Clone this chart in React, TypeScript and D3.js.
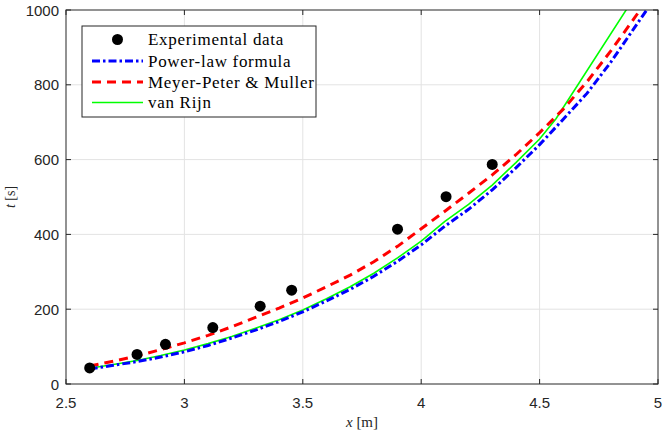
import React from 'react';
import * as d3 from 'd3';

// ---- data ----
const expX = [2.6, 2.8, 2.92, 3.12, 3.32, 3.453, 3.9, 4.105, 4.3];
const expT = [43, 79, 106, 151, 208, 251, 414, 501, 587];

const modelX = [2.6, 2.7, 2.8, 2.9, 3.0, 3.1, 3.2, 3.3, 3.4, 3.5, 3.6, 3.7, 3.8, 3.9, 4.0, 4.1, 4.2, 4.3, 4.4, 4.5, 4.6, 4.7, 4.8, 4.9, 5.0];
const powerT = [40, 50, 60, 72, 86, 103, 123, 144, 167, 193, 222, 253, 288, 328, 372, 422, 467, 519, 578, 640, 708, 777, 860, 952, 1044];
const mpmT = [48, 61, 75, 92, 110, 130, 153, 178, 203, 230, 260, 291, 327, 368, 415, 462, 510, 559, 613, 672, 735, 808, 890, 978, 1070];

const vrX = [2.6, 2.7, 2.8, 2.9, 3.0, 3.1, 3.2, 3.3, 3.4, 3.5, 3.6, 3.7, 3.8, 3.9, 4.0, 4.1, 4.2, 4.3, 4.4, 4.5, 4.57, 4.9];
const vrT = [42, 52, 63, 76, 91, 108, 127, 149, 172, 198, 228, 260, 296, 337, 382, 435, 480, 532, 592, 655, 710, 1034];

const xTicks = [2.5, 3, 3.5, 4, 4.5, 5];
const yTicks = [0, 200, 400, 600, 800, 1000];
const legendLabels = ['Experimental data', 'Power-law formula', 'Meyer-Peter & Muller', 'van Rijn'];

const W = 664;
const H = 433;
const M = { left: 66, top: 10, right: 6, bottom: 49 };

export default function App() {
  const x = d3.scaleLinear().domain([2.5, 5]).range([M.left, W - M.right]);
  const y = d3.scaleLinear().domain([0, 1000]).range([H - M.bottom, M.top]);
  const line = d3
    .line<[number, number]>()
    .x((d) => x(d[0]))
    .y((d) => y(d[1]));
  const powerPath = line(modelX.map((v, i) => [v, powerT[i]]) as [number, number][]) || '';
  const mpmPath = line(modelX.map((v, i) => [v, mpmT[i]]) as [number, number][]) || '';
  const vrPath = line(vrX.map((v, i) => [v, vrT[i]]) as [number, number][]) || '';

  const x0 = M.left;
  const x1 = W - M.right;
  const y0 = H - M.bottom;
  const y1 = M.top;
  const axisColor = '#262626';
  const tickFont = "'Liberation Sans', Arial, Helvetica, sans-serif";
  const serif = "'Liberation Serif', 'Times New Roman', serif";
  const tl = 5;

  const lx = 82;
  const ly = 26;
  const lw = 234;
  const lh = 91;
  const rowY = [39.5, 61, 82, 102.5];
  const lineX0 = 92;
  const lineX1 = 143;
  const textX = 148;

  return (
    <div style={{ position: 'fixed', left: 0, top: 0 }}>
      <svg width={W} height={H} viewBox={`0 0 ${W} ${H}`} style={{ display: 'block', background: '#fff' }}>
        <defs>
          <clipPath id="plotClip">
            <rect x={x0} y={y1} width={x1 - x0} height={y0 - y1} />
          </clipPath>
        </defs>
        <rect x={0} y={0} width={W} height={H} fill="#fff" />
        {/* grid */}
        {xTicks.slice(1, -1).map((t) => (
          <line key={'gx' + t} x1={x(t)} x2={x(t)} y1={y0} y2={y1} stroke="#e3e3e3" strokeWidth={1} />
        ))}
        {yTicks.slice(1, -1).map((t) => (
          <line key={'gy' + t} x1={x0} x2={x1} y1={y(t)} y2={y(t)} stroke="#e3e3e3" strokeWidth={1} />
        ))}
        {/* curves */}
        <g clipPath="url(#plotClip)" fill="none">
          <path d={vrPath} stroke="#00ff00" strokeWidth={1.6} />
          <path d={mpmPath} stroke="#ff0000" strokeWidth={3} strokeDasharray="9,6" />
          <path d={powerPath} stroke="#0000ff" strokeWidth={3} strokeDasharray="8,3,2.5,3" />
        </g>
        {/* markers */}
        {expX.map((v, i) => (
          <circle key={'m' + i} cx={x(v)} cy={y(expT[i])} r={5.5} fill="#000" />
        ))}
        {/* box */}
        <rect x={x0} y={y1} width={x1 - x0} height={y0 - y1} fill="none" stroke={axisColor} strokeWidth={1} />
        {/* ticks */}
        {xTicks.map((t) => (
          <g key={'tx' + t}>
            <line x1={x(t)} x2={x(t)} y1={y0} y2={y0 - tl} stroke={axisColor} />
            <line x1={x(t)} x2={x(t)} y1={y1} y2={y1 + tl} stroke={axisColor} />
            <text x={x(t)} y={408} textAnchor="middle" fontFamily={tickFont} fontSize={15} fill={axisColor}>
              {String(t)}
            </text>
          </g>
        ))}
        {yTicks.map((t) => (
          <g key={'ty' + t}>
            <line x1={x0} x2={x0 + tl} y1={y(t)} y2={y(t)} stroke={axisColor} />
            <line x1={x1} x2={x1 - tl} y1={y(t)} y2={y(t)} stroke={axisColor} />
            <text x={59} y={y(t) + 5.5} textAnchor="end" fontFamily={tickFont} fontSize={15} fill={axisColor}>
              {String(t)}
            </text>
          </g>
        ))}
        {/* axis labels */}
        <text x={362} y={427} textAnchor="middle" fontFamily={serif} fontSize={15} fill={axisColor}>
          <tspan fontStyle="italic">x</tspan> [m]
        </text>
        <text
          transform={`translate(15,${(y0 + y1) / 2}) rotate(-90)`}
          textAnchor="middle"
          fontFamily={serif}
          fontSize={14}
          fill={axisColor}
        >
          <tspan fontStyle="italic">t</tspan> [s]
        </text>
        {/* legend */}
        <rect x={lx} y={ly} width={lw} height={lh} fill="#fff" stroke={axisColor} strokeWidth={1} />
        <circle cx={(lineX0 + lineX1) / 2} cy={rowY[0]} r={5.5} fill="#000" />
        <line x1={lineX0} x2={lineX1} y1={rowY[1]} y2={rowY[1]} stroke="#0000ff" strokeWidth={3} strokeDasharray="8,3,2.5,3" />
        <line x1={lineX0} x2={lineX1} y1={rowY[2]} y2={rowY[2]} stroke="#ff0000" strokeWidth={3} strokeDasharray="9,6" />
        <line x1={lineX0} x2={lineX1} y1={rowY[3]} y2={rowY[3]} stroke="#00ff00" strokeWidth={1.6} />
        {legendLabels.map((s, i) => (
          <text key={'lt' + i} x={textX} y={rowY[i] + 5.5} fontFamily={serif} fontSize={17} letterSpacing={0.7} fill="#000">
            {s}
          </text>
        ))}
      </svg>
    </div>
  );
}
